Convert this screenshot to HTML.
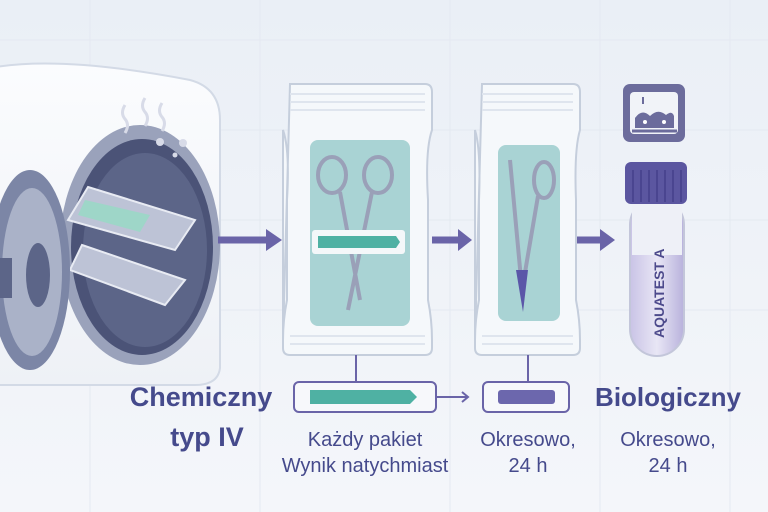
<!DOCTYPE html>
<html><head><meta charset="utf-8"><style>
html,body{margin:0;padding:0;background:#eef2f7;}
svg{display:block;}
text{font-family:"Liberation Sans",sans-serif;}
</style></head><body>
<svg width="768" height="512" viewBox="0 0 768 512" xmlns="http://www.w3.org/2000/svg">
<defs>
<linearGradient id="bg" x1="0" y1="0" x2="0" y2="1"><stop offset="0" stop-color="#eaeff6"/><stop offset="1" stop-color="#f4f6fa"/></linearGradient>
<linearGradient id="tube" x1="0" y1="0" x2="1" y2="0"><stop offset="0" stop-color="#c9c3e6"/><stop offset="0.5" stop-color="#e8e6f5"/><stop offset="1" stop-color="#b8b1dc"/></linearGradient>
<linearGradient id="body" x1="0" y1="0" x2="0" y2="1"><stop offset="0" stop-color="#fbfcfe"/><stop offset="1" stop-color="#eef1f6"/></linearGradient>
</defs>
<rect width="768" height="512" fill="url(#bg)"/>
<g stroke="#e4e9f1" stroke-width="1">
<line x1="0" y1="40" x2="768" y2="40"/><line x1="0" y1="130" x2="768" y2="130"/><line x1="0" y1="220" x2="768" y2="220"/><line x1="0" y1="310" x2="768" y2="310"/>
<line x1="90" y1="0" x2="90" y2="512"/><line x1="260" y1="0" x2="260" y2="512"/><line x1="450" y1="0" x2="450" y2="512"/><line x1="600" y1="0" x2="600" y2="512"/><line x1="730" y1="0" x2="730" y2="512"/>
</g>
<!-- autoclave -->
<path d="M-10 68 Q60 55 190 80 Q220 88 220 120 L220 368 Q218 385 195 385 L-10 385 Z" fill="url(#body)" stroke="#d3dae6" stroke-width="2"/>
<ellipse cx="140" cy="245" rx="80" ry="120" fill="#9aa2bb"/>
<ellipse cx="142" cy="247" rx="71" ry="108" fill="#4b5377"/>
<ellipse cx="145" cy="250" rx="62" ry="97" fill="#5c6588"/>
<path d="M125 105 q-5 8 0 14 q5 6 0 14 M145 98 q-5 8 0 14 q5 6 0 14 M162 103 q-5 8 0 14 q5 6 0 14" stroke="#d8dbe8" stroke-width="3" fill="none"/>
<circle cx="160" cy="142" r="4" fill="#d8dbe8"/><circle cx="183" cy="143" r="4" fill="#d8dbe8"/><circle cx="175" cy="155" r="2.5" fill="#d8dbe8"/>
<polygon points="88,187 195,220 175,250 68,220" fill="#bdc3d6" stroke="#e8ebf3" stroke-width="2"/>
<polygon points="85,200 150,215 140,232 78,215" fill="#9ed6c8"/>
<polygon points="82,245 185,280 165,305 70,270" fill="#bdc3d6" stroke="#e8ebf3" stroke-width="2"/>
<ellipse cx="30" cy="270" rx="40" ry="100" fill="#7c86a6"/>
<ellipse cx="32" cy="272" rx="30" ry="84" fill="#aab2c8"/>
<ellipse cx="38" cy="275" rx="12" ry="32" fill="#5c6588"/>
<rect x="0" y="258" width="12" height="40" fill="#5c6588"/>
<!-- arrows -->
<g fill="#6a64a8" stroke="#6a64a8">
<line x1="218" y1="240" x2="268" y2="240" stroke-width="7"/><polygon points="266,229 282,240 266,251" stroke="none"/>
<line x1="432" y1="240" x2="460" y2="240" stroke-width="7"/><polygon points="458,229 472,240 458,251" stroke="none"/>
<line x1="575" y1="240" x2="602" y2="240" stroke-width="7"/><polygon points="600,229 615,240 600,251" stroke="none"/>
</g>
<!-- bag 1 -->
<path d="M290 84 L425 84 Q432 84 432 92 L432 130 Q425 150 428 200 L428 300 Q432 320 432 340 L432 348 Q432 355 425 355 L290 355 Q283 355 283 348 L283 130 Q290 150 287 200 L287 300 Q283 320 283 340 Z" fill="#f5f8fb" stroke="#c5cedc" stroke-width="2"/>
<g stroke="#dfe5ee" stroke-width="2"><line x1="290" y1="94" x2="425" y2="94"/><line x1="290" y1="102" x2="425" y2="102"/><line x1="290" y1="110" x2="425" y2="110"/><line x1="290" y1="336" x2="425" y2="336"/><line x1="290" y1="344" x2="425" y2="344"/></g>
<rect x="310" y="140" width="100" height="186" rx="8" fill="#9bcccc" opacity="0.85"/>
<g fill="none" stroke="#9aa0b8" stroke-width="4"><ellipse cx="332" cy="175" rx="14" ry="18"/><ellipse cx="378" cy="175" rx="14" ry="18"/><path d="M340 192 L360 300 M372 192 L348 310"/></g>
<rect x="312" y="230" width="93" height="24" rx="3" fill="#f4f7f9"/>
<path d="M318 236 L396 236 L400 242 L396 248 L318 248 Z" fill="#4fb1a3"/>
<!-- bag 2 -->
<path d="M482 84 L573 84 Q580 84 580 92 L580 130 Q574 150 576 200 L576 300 Q580 320 580 340 L580 348 Q580 355 573 355 L482 355 Q475 355 475 348 L475 130 Q481 150 479 200 L479 300 Q475 320 475 340 Z" fill="#f5f8fb" stroke="#c5cedc" stroke-width="2"/>
<g stroke="#dfe5ee" stroke-width="2"><line x1="482" y1="94" x2="573" y2="94"/><line x1="482" y1="102" x2="573" y2="102"/><line x1="482" y1="110" x2="573" y2="110"/><line x1="482" y1="336" x2="573" y2="336"/><line x1="482" y1="344" x2="573" y2="344"/></g>
<rect x="498" y="145" width="62" height="176" rx="8" fill="#9bcccc" opacity="0.85"/>
<g fill="none" stroke="#9aa0b8" stroke-width="4"><ellipse cx="544" cy="180" rx="10" ry="18"/><path d="M538 196 L522 290 M510 160 L522 290"/></g>
<path d="M516 270 L528 270 L523 312 Z" fill="#5b56a8"/>
<!-- icon -->
<rect x="623" y="84" width="62" height="58" rx="7" fill="#6c6c9c"/>
<rect x="630" y="92" width="48" height="42" rx="4" fill="#f1f3f8"/>
<path d="M635 128 L635 118 Q642 108 650 116 Q658 108 666 115 Q672 110 674 116 L674 128 Z" fill="#6c6c9c"/>
<line x1="632" y1="131" x2="677" y2="131" stroke="#6c6c9c" stroke-width="3"/>
<line x1="643" y1="97" x2="643" y2="104" stroke="#6c6c9c" stroke-width="2"/>
<circle cx="645" cy="122" r="2" fill="#fff"/><circle cx="664" cy="122" r="2" fill="#fff"/>
<!-- tube -->
<rect x="630" y="198" width="54" height="158" rx="27" fill="url(#tube)" stroke="#c3c6da" stroke-width="2"/>
<rect x="632" y="200" width="50" height="55" fill="#eef0f7"/>
<rect x="625" y="162" width="62" height="42" rx="6" fill="#5b56a0"/>
<g stroke="#4a4590" stroke-width="2"><line x1="633" y1="170" x2="633" y2="202"/><line x1="641" y1="170" x2="641" y2="202"/><line x1="649" y1="170" x2="649" y2="202"/><line x1="657" y1="170" x2="657" y2="202"/><line x1="665" y1="170" x2="665" y2="202"/><line x1="673" y1="170" x2="673" y2="202"/><line x1="681" y1="170" x2="681" y2="202"/></g>
<text transform="translate(664,338) rotate(-90)" font-size="14" font-weight="bold" fill="#4d4a8c">AQUATEST A</text>
<!-- connectors -->
<g stroke="#6a64a8" stroke-width="2" fill="none">
<line x1="356" y1="355" x2="356" y2="382"/><line x1="528" y1="355" x2="528" y2="382"/>
<rect x="294" y="382" width="142" height="30" rx="5" fill="#f7f8fb"/>
<rect x="483" y="382" width="86" height="30" rx="5" fill="#f7f8fb"/>
<line x1="437" y1="397" x2="467" y2="397"/><polyline points="462,392 468,397 462,402"/>
</g>
<path d="M310 390 L410 390 L417 397 L410 404 L310 404 Z" fill="#4fb1a3"/>
<rect x="498" y="390" width="57" height="14" rx="3" fill="#6c67ad"/>
<!-- text -->
<g fill="#454a8c" font-weight="bold">
<text x="201" y="406" text-anchor="middle" font-size="27">Chemiczny</text>
<text x="207" y="446" text-anchor="middle" font-size="27">typ IV</text>
<text x="668" y="406" text-anchor="middle" font-size="26">Biologiczny</text>
</g>
<g fill="#454a8c" font-size="20" text-anchor="middle">
<text x="365" y="446">Każdy pakiet</text>
<text x="365" y="472">Wynik natychmiast</text>
<text x="528" y="446">Okresowo,</text>
<text x="528" y="472">24 h</text>
<text x="668" y="446">Okresowo,</text>
<text x="668" y="472">24 h</text>
</g>
</svg>
</body></html>
